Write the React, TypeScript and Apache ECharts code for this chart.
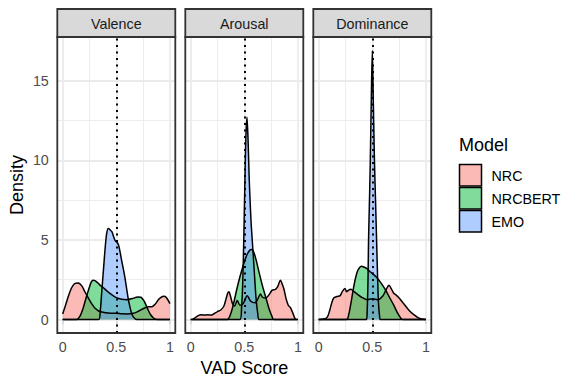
import React, { useEffect, useRef } from 'react';
import * as echarts from 'echarts';

const facets = ['Valence', 'Arousal', 'Dominance'];
const models = ['NRC', 'NRCBERT', 'EMO'];
const modelColors = ['#F8766D', '#00BA38', '#619CFF'];
const xTicks = [0, 0.5, 1];
const xMinor = [0.25, 0.75];
const yTicks = [0, 5, 10, 15];
const yMinor = [2.5, 7.5, 12.5];
const refLine = 0.5;

// density curves, [VAD score, density]
const valenceNRC = [[0, 0.35], [0.02, 0.75], [0.05, 1.4], [0.08, 1.95], [0.11, 2.25], [0.145, 2.3], [0.18, 2.1], [0.21, 1.7], [0.24, 1.35], [0.27, 1.0], [0.3, 0.72], [0.34, 0.52], [0.4, 0.42], [0.45, 0.4], [0.5, 0.4], [0.55, 0.36], [0.6, 0.35], [0.65, 0.38], [0.7, 0.5], [0.75, 0.68], [0.8, 0.8], [0.83, 0.8], [0.86, 0.95], [0.9, 1.3], [0.93, 1.45], [0.95, 1.47], [0.97, 1.35], [1.0, 1.0]];
const valenceNRCBERT = [[0, 0], [0.13, 0], [0.16, 0.2], [0.19, 0.7], [0.22, 1.4], [0.25, 2.05], [0.27, 2.4], [0.29, 2.47], [0.32, 2.35], [0.35, 2.15], [0.38, 2.0], [0.42, 1.75], [0.46, 1.55], [0.5, 1.38], [0.55, 1.28], [0.6, 1.25], [0.65, 1.32], [0.7, 1.42], [0.73, 1.4], [0.76, 1.15], [0.79, 0.7], [0.82, 0.3], [0.85, 0.08], [0.88, 0], [1, 0]];
const valenceEMO = [[0, 0], [0.335, 0], [0.35, 0.5], [0.365, 1.8], [0.38, 3.1], [0.395, 4.4], [0.41, 5.4], [0.425, 5.72], [0.44, 5.65], [0.46, 5.5], [0.475, 5.2], [0.49, 4.95], [0.505, 4.85], [0.52, 4.7], [0.535, 4.25], [0.55, 3.7], [0.565, 3.2], [0.58, 2.65], [0.595, 2.0], [0.61, 1.35], [0.625, 0.85], [0.64, 0.45], [0.66, 0.15], [0.69, 0], [1, 0]];

const arousalNRC = [[0.015, 0], [0.04, 0.1], [0.07, 0.25], [0.1, 0.3], [0.13, 0.28], [0.16, 0.3], [0.19, 0.28], [0.22, 0.38], [0.25, 0.5], [0.28, 0.6], [0.31, 0.85], [0.33, 1.3], [0.345, 1.65], [0.357, 1.74], [0.37, 1.5], [0.39, 1.0], [0.41, 0.85], [0.434, 1.2], [0.46, 0.9], [0.49, 1.0], [0.527, 1.5], [0.56, 1.15], [0.6, 1.05], [0.63, 1.35], [0.65, 1.6], [0.67, 1.4], [0.7, 1.35], [0.73, 1.55], [0.76, 1.85], [0.79, 1.9], [0.81, 2.05], [0.837, 2.47], [0.85, 2.3], [0.87, 1.9], [0.89, 1.3], [0.91, 0.9], [0.93, 0.75], [0.95, 0.45], [0.97, 0.1], [0.98, 0]];
const arousalNRCBERT = [[0, 0], [0.34, 0], [0.37, 0.3], [0.4, 1.0], [0.43, 1.9], [0.46, 2.7], [0.49, 3.4], [0.52, 4.0], [0.55, 4.35], [0.57, 4.4], [0.59, 4.2], [0.61, 3.75], [0.64, 2.9], [0.67, 2.1], [0.7, 1.4], [0.73, 0.7], [0.755, 0.25], [0.775, 0], [1, 0]];
const arousalEMO = [[0, 0], [0.46, 0], [0.475, 0.8], [0.485, 2.2], [0.495, 5.0], [0.505, 8.5], [0.515, 11.5], [0.525, 12.7], [0.535, 11.3], [0.545, 9.0], [0.555, 7.3], [0.565, 5.9], [0.58, 4.4], [0.595, 2.8], [0.61, 1.3], [0.625, 0.4], [0.64, 0], [1, 0]];

const dominanceNRC = [[0, 0], [0.05, 0.03], [0.08, 0.15], [0.1, 0.5], [0.12, 1.0], [0.14, 1.35], [0.17, 1.45], [0.2, 1.5], [0.22, 1.75], [0.245, 1.95], [0.26, 1.75], [0.28, 1.85], [0.3, 1.9], [0.33, 1.75], [0.36, 1.6], [0.4, 1.4], [0.45, 1.25], [0.5, 1.3], [0.55, 1.25], [0.6, 1.5], [0.63, 1.9], [0.655, 2.15], [0.68, 1.9], [0.7, 1.65], [0.72, 1.55], [0.75, 1.35], [0.78, 1.1], [0.81, 0.85], [0.84, 0.6], [0.87, 0.4], [0.9, 0.25], [0.93, 0.1], [0.96, 0.03], [1, 0]];
const dominanceNRCBERT = [[0, 0], [0.26, 0], [0.28, 0.3], [0.3, 1.0], [0.32, 1.8], [0.34, 2.5], [0.36, 3.0], [0.38, 3.25], [0.4, 3.35], [0.42, 3.3], [0.45, 3.2], [0.48, 3.0], [0.5, 2.9], [0.54, 2.65], [0.58, 2.3], [0.62, 1.9], [0.66, 1.4], [0.7, 0.9], [0.74, 0.35], [0.77, 0.05], [0.79, 0], [1, 0]];
const dominanceEMO = [[0, 0], [0.445, 0], [0.452, 0.5], [0.46, 2.5], [0.465, 5], [0.472, 7], [0.48, 9.5], [0.49, 13.5], [0.5, 16.9], [0.51, 13.5], [0.52, 10], [0.53, 7.5], [0.54, 5], [0.55, 2.5], [0.558, 1.0], [0.568, 0.2], [0.575, 0], [1, 0]];

const curves = [
  [valenceNRC, valenceNRCBERT, valenceEMO],
  [arousalNRC, arousalNRCBERT, arousalEMO],
  [dominanceNRC, dominanceNRCBERT, dominanceEMO],
];

const FONT = '"Liberation Sans", Arial, Helvetica, sans-serif';
const PANEL_LEFTS = [57.3, 185.3, 313.3];
const PANEL_W = 118;
const PANEL_TOP = 37;
const PANEL_H = 296;
const STRIP_TOP = 9;

function rgba(hex: string, a: number) {
  const n = parseInt(hex.slice(1), 16);
  return `rgba(${(n >> 16) & 255},${(n >> 8) & 255},${n & 255},${a})`;
}

export default function App() {
  const ref = useRef<HTMLDivElement>(null);
  useEffect(() => {
    if (!ref.current) return;
    const chart = echarts.init(ref.current, undefined, { renderer: 'svg' });
    const series: any[] = [];
    facets.forEach((_, i) => {
      series.push({
        type: 'line', xAxisIndex: i, yAxisIndex: i, data: [], silent: true, z: 1,
        markLine: {
          silent: true, symbol: 'none', z: 1, label: { show: false },
          data: [
            ...xMinor.map((v) => ({ xAxis: v, lineStyle: { color: '#EBEBEB', width: 0.9, type: 'solid' } })),
            ...yMinor.map((v) => ({ yAxis: v, lineStyle: { color: '#EBEBEB', width: 0.9, type: 'solid' } })),
            ...xTicks.map((v) => ({ xAxis: v, lineStyle: { color: '#EBEBEB', width: 1.8, type: 'solid' } })),
            ...yTicks.map((v) => ({ yAxis: v, lineStyle: { color: '#EBEBEB', width: 1.8, type: 'solid' } })),
          ],
        },
      });
      models.forEach((m, k) => {
        series.push({
          type: 'line', name: m, xAxisIndex: i, yAxisIndex: i,
          data: curves[i][k], showSymbol: false, symbol: 'none', smooth: 0.3, silent: true, z: 2,
          lineStyle: { color: '#000', width: 1.5 },
          itemStyle: { color: modelColors[k] },
          areaStyle: { color: rgba(modelColors[k], 0.5), opacity: 1 },
        });
      });
      series.push({
        type: 'line', xAxisIndex: i, yAxisIndex: i, data: [], silent: true, z: 5,
        markLine: {
          silent: true, symbol: 'none', z: 5, label: { show: false },
          lineStyle: { color: '#000', width: 2, type: [2, 4.5] },
          data: [{ xAxis: refLine }],
        },
      });
    });

    const graphics: any[] = [];
    facets.forEach((f, i) => {
      graphics.push({
        type: 'rect', z: 10,
        shape: { x: PANEL_LEFTS[i], y: STRIP_TOP, width: PANEL_W, height: PANEL_TOP - STRIP_TOP },
        style: { fill: '#D9D9D9', stroke: '#333333', lineWidth: 1.8 },
      });
      graphics.push({
        type: 'text', z: 11, x: PANEL_LEFTS[i] + PANEL_W / 2, y: (STRIP_TOP + PANEL_TOP) / 2 + 0.5,
        style: { text: f, fill: '#1A1A1A', font: `14.3px ${FONT}`, align: 'center', verticalAlign: 'middle' },
      });
      graphics.push({
        type: 'rect', z: 10,
        shape: { x: PANEL_LEFTS[i], y: PANEL_TOP, width: PANEL_W, height: PANEL_H },
        style: { fill: 'none', stroke: '#333333', lineWidth: 1.8 },
      });
    });
    graphics.push({
      type: 'text', x: (PANEL_LEFTS[0] + PANEL_LEFTS[2] + PANEL_W) / 2, y: 368,
      style: { text: 'VAD Score', fill: '#000', font: `18px ${FONT}`, align: 'center', verticalAlign: 'middle' },
    });
    graphics.push({
      type: 'text', x: 17, y: PANEL_TOP + PANEL_H / 2, rotation: Math.PI / 2,
      style: { text: 'Density', fill: '#000', font: `18px ${FONT}`, align: 'center', verticalAlign: 'middle' },
    });
    graphics.push({
      type: 'text', x: 459, y: 145,
      style: { text: 'Model', fill: '#000', font: `18px ${FONT}`, align: 'left', verticalAlign: 'middle' },
    });
    models.forEach((m, k) => {
      const top = 164.5 + k * 23;
      graphics.push({
        type: 'rect', shape: { x: 459.5, y: top, width: 22, height: 21.5 },
        style: { fill: rgba(modelColors[k], 0.5), stroke: '#000', lineWidth: 1.5 },
      });
      graphics.push({
        type: 'text', x: 491.5, y: top + 11,
        style: { text: m, fill: '#000', font: `14.3px ${FONT}`, align: 'left', verticalAlign: 'middle' },
      });
    });

    chart.setOption({
      animation: false,
      backgroundColor: '#fff',
      textStyle: { fontFamily: FONT },
      grid: PANEL_LEFTS.map((l) => ({ left: l, top: PANEL_TOP, width: PANEL_W, height: PANEL_H, show: false })),
      xAxis: facets.map((_, i) => ({
        type: 'value', gridIndex: i, min: -0.05, max: 1.05,
        axisLine: { show: false }, splitLine: { show: false },
        axisTick: { show: true, customValues: xTicks, length: 4.5, lineStyle: { color: '#333333', width: 1.8 } },
        axisLabel: {
          show: true, customValues: xTicks, margin: 7, color: '#4D4D4D', fontSize: 14.3, fontFamily: FONT,
          formatter: (v: number) => String(v),
        },
      })),
      yAxis: facets.map((_, i) => ({
        type: 'value', gridIndex: i, min: -0.845, max: 17.745,
        axisLine: { show: false }, splitLine: { show: false },
        axisTick: { show: i === 0, customValues: yTicks, length: 4.5, lineStyle: { color: '#333333', width: 1.8 } },
        axisLabel: {
          show: i === 0, customValues: yTicks, margin: 8.5, color: '#4D4D4D', fontSize: 14.3, fontFamily: FONT,
          formatter: (v: number) => String(v),
        },
      })),
      series,
      graphic: graphics,
    });
    return () => chart.dispose();
  }, []);
  return <div ref={ref} style={{ position: 'fixed', left: 0, top: 0, width: 563, height: 378, background: '#fff' }} />;
}
